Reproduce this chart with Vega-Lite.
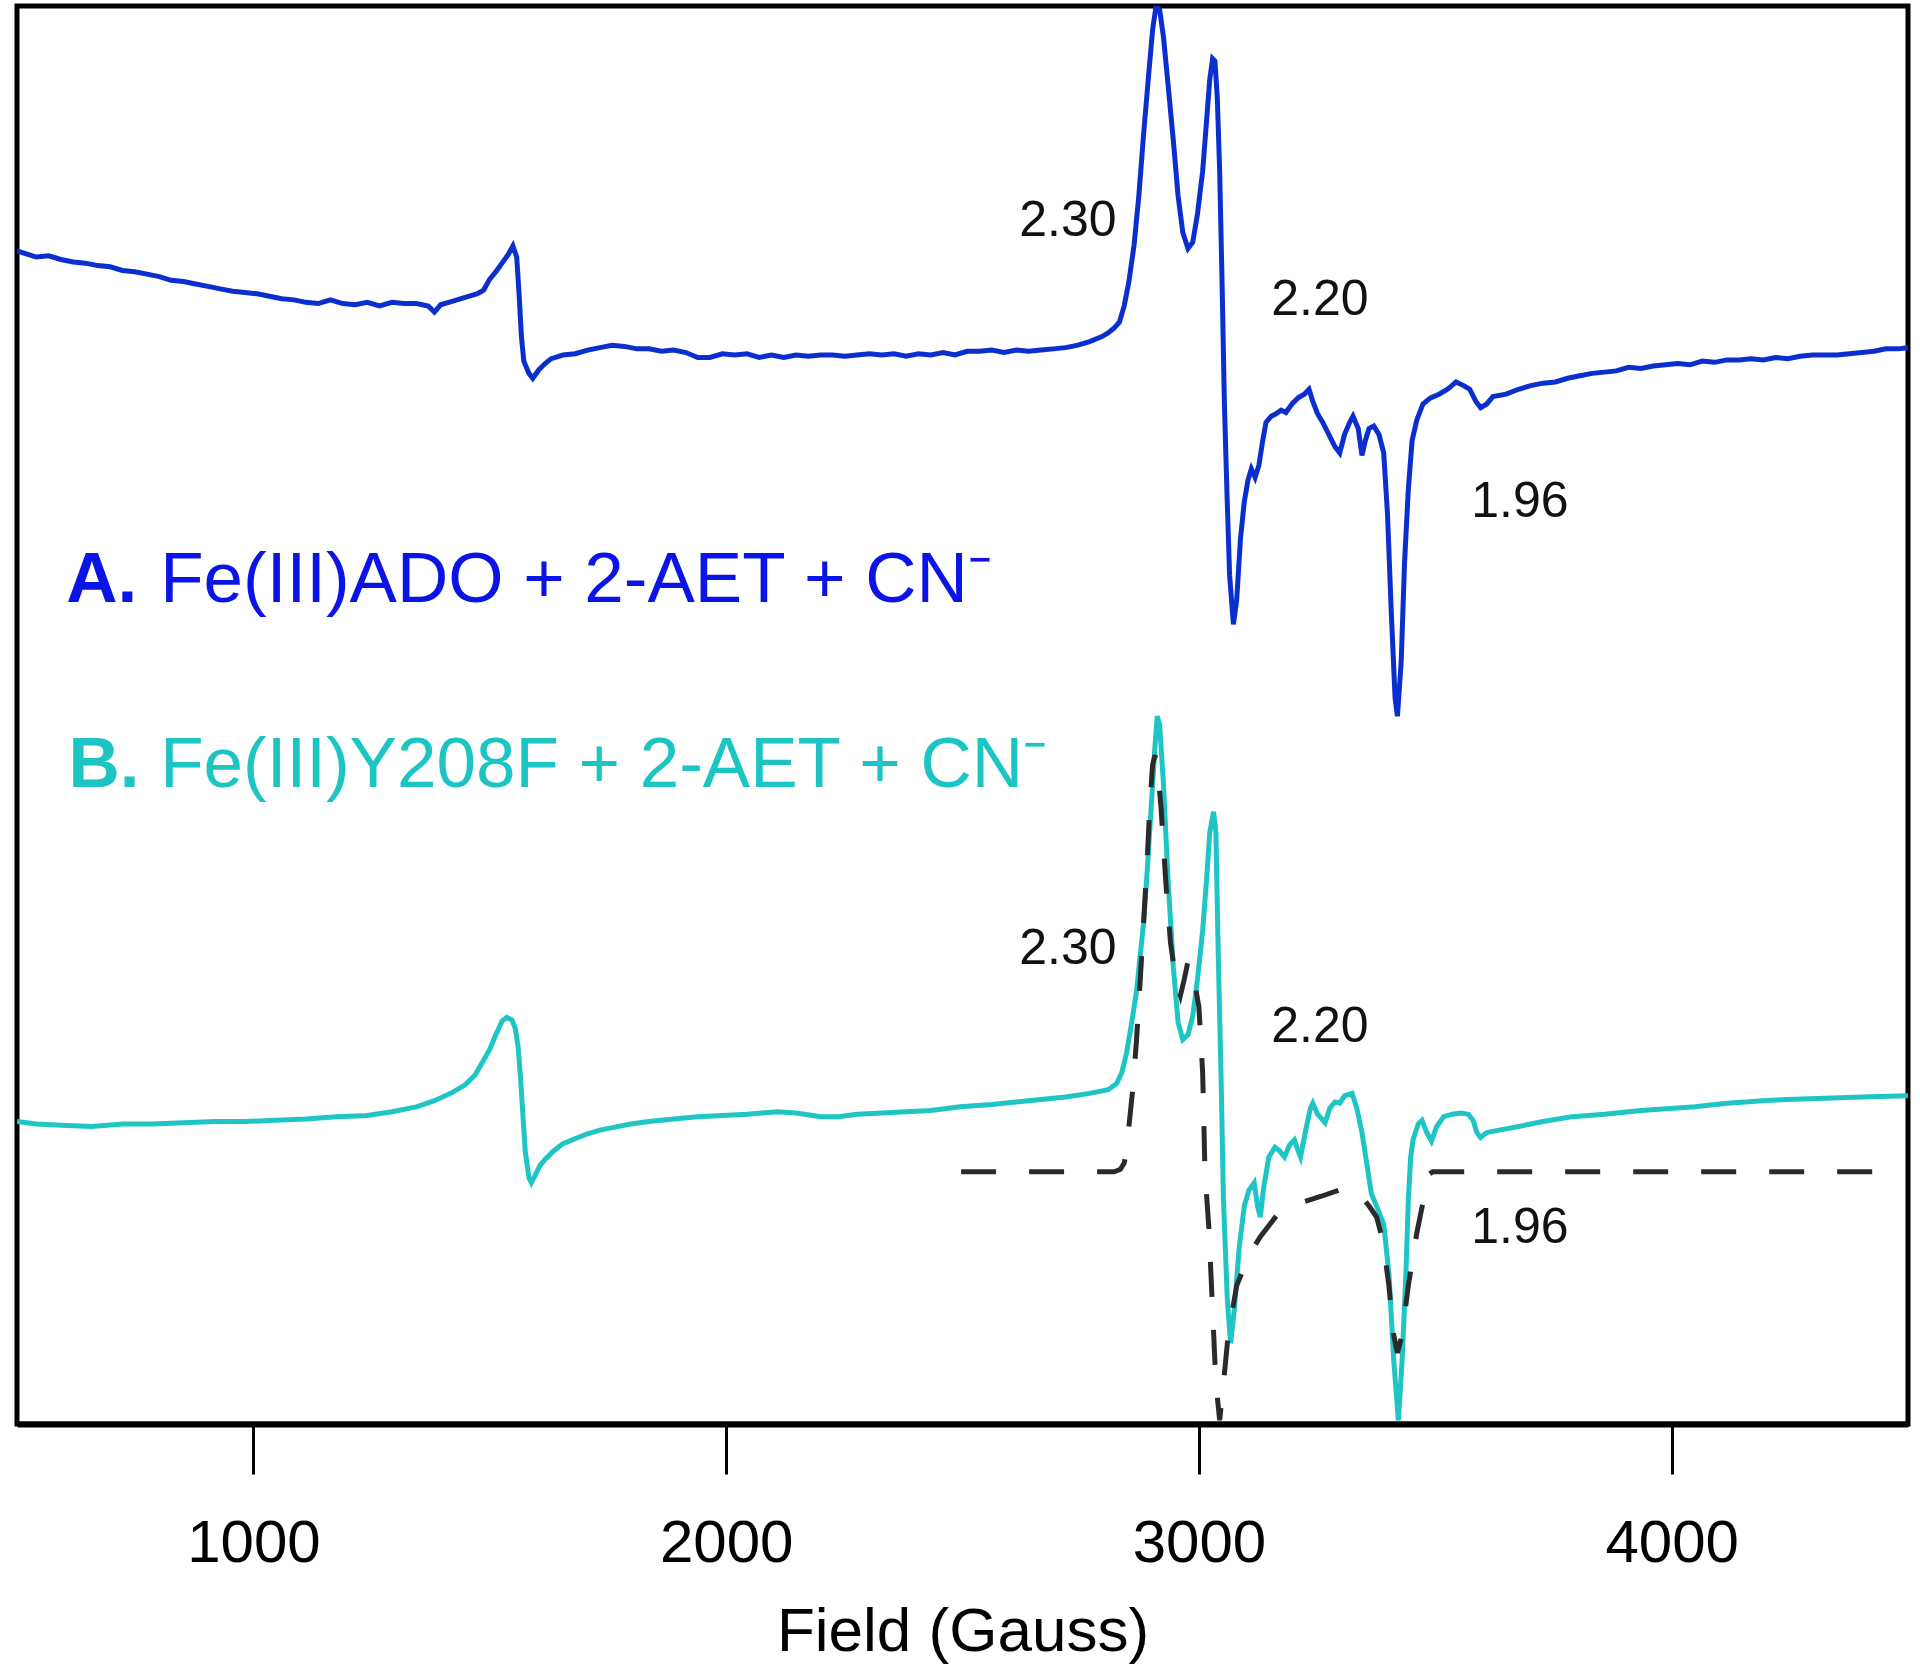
{
  "$schema": "https://vega.github.io/schema/vega-lite/v6.json",
  "width": 1891,
  "height": 1418,
  "autosize": {"type": "none"},
  "padding": {"left": 17, "top": 6, "right": 12, "bottom": 247},
  "background": "white",
  "config": {
    "view": {"stroke": "black", "strokeWidth": 5},
    "font": "Liberation Sans"
  },
  "datasets": {
    "A": [
      {"field":500,"y":958},{"field":516,"y":956},{"field":541,"y":953},{"field":567,"y":954},{"field":593,"y":951},{"field":619,"y":949},{"field":645,"y":948},{"field":671,"y":946},{"field":697,"y":945},{"field":723,"y":942},{"field":749,"y":941},{"field":775,"y":939},{"field":801,"y":937},{"field":826,"y":934},{"field":852,"y":933},{"field":878,"y":931},{"field":904,"y":929},{"field":930,"y":927},{"field":956,"y":925},{"field":982,"y":924},{"field":1008,"y":923},{"field":1034,"y":921},{"field":1060,"y":919},{"field":1086,"y":918},{"field":1111,"y":916},{"field":1137,"y":915},{"field":1163,"y":918},{"field":1189,"y":915},{"field":1215,"y":914},{"field":1241,"y":916},{"field":1267,"y":913},{"field":1293,"y":916},{"field":1319,"y":915},{"field":1345,"y":915},{"field":1370,"y":913},{"field":1383,"y":908},{"field":1396,"y":914},{"field":1422,"y":917},{"field":1448,"y":920},{"field":1474,"y":923},{"field":1487,"y":926},{"field":1500,"y":935},{"field":1513,"y":941},{"field":1526,"y":948},{"field":1539,"y":955},{"field":1549,"y":962},{"field":1557,"y":953},{"field":1562,"y":923},{"field":1567,"y":888},{"field":1572,"y":868},{"field":1583,"y":858},{"field":1591,"y":854},{"field":1604,"y":861},{"field":1617,"y":866},{"field":1630,"y":870},{"field":1655,"y":873},{"field":1681,"y":874},{"field":1707,"y":877},{"field":1733,"y":879},{"field":1759,"y":881},{"field":1785,"y":880},{"field":1811,"y":878},{"field":1837,"y":878},{"field":1863,"y":876},{"field":1889,"y":877},{"field":1915,"y":875},{"field":1940,"y":871},{"field":1966,"y":871},{"field":1992,"y":874},{"field":2018,"y":873},{"field":2044,"y":874},{"field":2070,"y":871},{"field":2096,"y":873},{"field":2122,"y":871},{"field":2148,"y":873},{"field":2174,"y":872},{"field":2200,"y":873},{"field":2225,"y":873},{"field":2251,"y":872},{"field":2277,"y":873},{"field":2303,"y":874},{"field":2329,"y":873},{"field":2355,"y":874},{"field":2381,"y":872},{"field":2407,"y":874},{"field":2433,"y":873},{"field":2459,"y":875},{"field":2484,"y":873},{"field":2510,"y":876},{"field":2536,"y":876},{"field":2562,"y":877},{"field":2588,"y":875},{"field":2614,"y":877},{"field":2640,"y":876},{"field":2666,"y":877},{"field":2692,"y":878},{"field":2718,"y":879},{"field":2744,"y":881},{"field":2769,"y":884},{"field":2795,"y":888},{"field":2808,"y":891},{"field":2821,"y":895},{"field":2832,"y":900},{"field":2842,"y":913},{"field":2852,"y":933},{"field":2863,"y":963},{"field":2873,"y":1003},{"field":2883,"y":1053},{"field":2894,"y":1103},{"field":2902,"y":1138},{"field":2909,"y":1157},{"field":2917,"y":1155},{"field":2925,"y":1133},{"field":2935,"y":1093},{"field":2946,"y":1048},{"field":2956,"y":1003},{"field":2966,"y":973},{"field":2977,"y":960},{"field":2987,"y":965},{"field":2997,"y":988},{"field":3008,"y":1023},{"field":3016,"y":1063},{"field":3023,"y":1098},{"field":3029,"y":1115},{"field":3034,"y":1113},{"field":3039,"y":1083},{"field":3044,"y":1023},{"field":3049,"y":933},{"field":3054,"y":833},{"field":3060,"y":753},{"field":3065,"y":693},{"field":3073,"y":653},{"field":3080,"y":673},{"field":3088,"y":723},{"field":3096,"y":753},{"field":3104,"y":771},{"field":3111,"y":780},{"field":3119,"y":773},{"field":3127,"y":783},{"field":3135,"y":803},{"field":3142,"y":818},{"field":3153,"y":823},{"field":3163,"y":825},{"field":3174,"y":828},{"field":3184,"y":826},{"field":3197,"y":833},{"field":3210,"y":838},{"field":3223,"y":841},{"field":3233,"y":845},{"field":3241,"y":835},{"field":3251,"y":825},{"field":3262,"y":818},{"field":3275,"y":808},{"field":3288,"y":798},{"field":3298,"y":793},{"field":3308,"y":808},{"field":3319,"y":818},{"field":3326,"y":823},{"field":3337,"y":813},{"field":3345,"y":791},{"field":3352,"y":803},{"field":3360,"y":813},{"field":3370,"y":815},{"field":3381,"y":808},{"field":3391,"y":793},{"field":3399,"y":743},{"field":3407,"y":663},{"field":3415,"y":593},{"field":3420,"y":578},{"field":3428,"y":623},{"field":3435,"y":703},{"field":3443,"y":763},{"field":3451,"y":803},{"field":3461,"y":820},{"field":3474,"y":833},{"field":3490,"y":838},{"field":3508,"y":841},{"field":3526,"y":845},{"field":3544,"y":851},{"field":3560,"y":848},{"field":3573,"y":845},{"field":3586,"y":835},{"field":3596,"y":830},{"field":3609,"y":833},{"field":3622,"y":839},{"field":3650,"y":841},{"field":3676,"y":845},{"field":3702,"y":848},{"field":3728,"y":850},{"field":3754,"y":851},{"field":3780,"y":854},{"field":3806,"y":856},{"field":3832,"y":858},{"field":3858,"y":859},{"field":3883,"y":860},{"field":3909,"y":863},{"field":3935,"y":862},{"field":3961,"y":864},{"field":3987,"y":865},{"field":4013,"y":866},{"field":4039,"y":865},{"field":4065,"y":868},{"field":4091,"y":867},{"field":4117,"y":869},{"field":4143,"y":869},{"field":4168,"y":870},{"field":4194,"y":869},{"field":4220,"y":871},{"field":4246,"y":870},{"field":4272,"y":872},{"field":4298,"y":873},{"field":4324,"y":873},{"field":4350,"y":873},{"field":4376,"y":874},{"field":4402,"y":875},{"field":4428,"y":876},{"field":4453,"y":878},{"field":4479,"y":878},{"field":4500,"y":879}
    ],
    "B": [
      {"field":500,"y":247},{"field":541,"y":245},{"field":593,"y":244},{"field":658,"y":243},{"field":723,"y":245},{"field":788,"y":245},{"field":852,"y":246},{"field":917,"y":247},{"field":982,"y":247},{"field":1047,"y":248},{"field":1111,"y":249},{"field":1176,"y":251},{"field":1241,"y":252},{"field":1293,"y":255},{"field":1345,"y":259},{"field":1383,"y":264},{"field":1422,"y":271},{"field":1448,"y":277},{"field":1469,"y":285},{"field":1487,"y":297},{"field":1500,"y":306},{"field":1513,"y":318},{"field":1526,"y":329},{"field":1536,"y":332},{"field":1547,"y":330},{"field":1554,"y":323},{"field":1560,"y":308},{"field":1565,"y":283},{"field":1570,"y":253},{"field":1575,"y":223},{"field":1583,"y":201},{"field":1588,"y":197},{"field":1596,"y":203},{"field":1606,"y":211},{"field":1617,"y":216},{"field":1635,"y":223},{"field":1655,"y":229},{"field":1681,"y":233},{"field":1707,"y":237},{"field":1733,"y":240},{"field":1759,"y":242},{"field":1798,"y":245},{"field":1837,"y":247},{"field":1889,"y":249},{"field":1940,"y":251},{"field":1992,"y":252},{"field":2044,"y":253},{"field":2109,"y":255},{"field":2148,"y":254},{"field":2200,"y":251},{"field":2238,"y":251},{"field":2277,"y":253},{"field":2329,"y":254},{"field":2381,"y":255},{"field":2433,"y":256},{"field":2495,"y":259},{"field":2562,"y":261},{"field":2640,"y":264},{"field":2718,"y":267},{"field":2769,"y":270},{"field":2808,"y":273},{"field":2826,"y":278},{"field":2837,"y":287},{"field":2847,"y":303},{"field":2858,"y":328},{"field":2868,"y":353},{"field":2876,"y":383},{"field":2883,"y":409},{"field":2891,"y":453},{"field":2899,"y":503},{"field":2907,"y":553},{"field":2912,"y":578},{"field":2917,"y":571},{"field":2925,"y":523},{"field":2935,"y":443},{"field":2946,"y":373},{"field":2956,"y":328},{"field":2966,"y":314},{"field":2977,"y":318},{"field":2987,"y":333},{"field":2997,"y":363},{"field":3008,"y":403},{"field":3016,"y":443},{"field":3023,"y":483},{"field":3031,"y":500},{"field":3036,"y":483},{"field":3041,"y":383},{"field":3047,"y":283},{"field":3052,"y":183},{"field":3060,"y":103},{"field":3067,"y":66},{"field":3075,"y":93},{"field":3085,"y":143},{"field":3096,"y":178},{"field":3106,"y":191},{"field":3117,"y":197},{"field":3124,"y":178},{"field":3130,"y":169},{"field":3137,"y":193},{"field":3148,"y":218},{"field":3161,"y":226},{"field":3171,"y":223},{"field":3181,"y":218},{"field":3192,"y":228},{"field":3202,"y":232},{"field":3210,"y":223},{"field":3215,"y":218},{"field":3225,"y":238},{"field":3236,"y":258},{"field":3241,"y":262},{"field":3251,"y":253},{"field":3267,"y":246},{"field":3277,"y":258},{"field":3288,"y":263},{"field":3298,"y":262},{"field":3308,"y":268},{"field":3324,"y":270},{"field":3334,"y":258},{"field":3345,"y":238},{"field":3355,"y":213},{"field":3365,"y":188},{"field":3381,"y":173},{"field":3391,"y":163},{"field":3402,"y":123},{"field":3412,"y":53},{"field":3422,"y":3},{"field":3430,"y":53},{"field":3438,"y":123},{"field":3443,"y":183},{"field":3448,"y":218},{"field":3453,"y":232},{"field":3464,"y":245},{"field":3472,"y":248},{"field":3482,"y":238},{"field":3492,"y":231},{"field":3503,"y":243},{"field":3518,"y":251},{"field":3536,"y":253},{"field":3554,"y":254},{"field":3570,"y":253},{"field":3580,"y":248},{"field":3588,"y":238},{"field":3596,"y":234},{"field":3609,"y":238},{"field":3635,"y":240},{"field":3676,"y":243},{"field":3728,"y":247},{"field":3790,"y":251},{"field":3858,"y":253},{"field":3935,"y":256},{"field":4013,"y":258},{"field":4049,"y":259},{"field":4117,"y":262},{"field":4194,"y":264},{"field":4244,"y":265},{"field":4324,"y":266},{"field":4402,"y":267},{"field":4500,"y":268}
    ],
    "fit": [
      {"field":2497,"y":206},{"field":2666,"y":206},{"field":2821,"y":206},{"field":2834,"y":208},{"field":2842,"y":213},{"field":2847,"y":223},{"field":2852,"y":243},{"field":2860,"y":273},{"field":2868,"y":313},{"field":2876,"y":363},{"field":2883,"y":409},{"field":2891,"y":463},{"field":2896,"y":503},{"field":2902,"y":538},{"field":2907,"y":546},{"field":2912,"y":538},{"field":2920,"y":503},{"field":2930,"y":443},{"field":2940,"y":393},{"field":2951,"y":363},{"field":2961,"y":350},{"field":2969,"y":363},{"field":2977,"y":378},{"field":2985,"y":373},{"field":2992,"y":358},{"field":3000,"y":341},{"field":3008,"y":287},{"field":3013,"y":205},{"field":3021,"y":161},{"field":3029,"y":93},{"field":3036,"y":33},{"field":3044,"y":3},{"field":3052,"y":33},{"field":3062,"y":73},{"field":3080,"y":113},{"field":3106,"y":138},{"field":3130,"y":153},{"field":3168,"y":172},{"field":3210,"y":180},{"field":3259,"y":186},{"field":3311,"y":193},{"field":3339,"y":188},{"field":3360,"y":178},{"field":3376,"y":169},{"field":3389,"y":150},{"field":3402,"y":113},{"field":3412,"y":73},{"field":3420,"y":58},{"field":3430,"y":73},{"field":3443,"y":113},{"field":3461,"y":156},{"field":3474,"y":181},{"field":3482,"y":203},{"field":3495,"y":206},{"field":3702,"y":206},{"field":4091,"y":206},{"field":4477,"y":206}
    ],
    "gvalues": [
      {"field":2723,"y":970,"t":"2.30"},
      {"field":3256,"y":906,"t":"2.20"},
      {"field":3679,"y":741,"t":"1.96"},
      {"field":2723,"y":376,"t":"2.30"},
      {"field":3256,"y":312,"t":"2.20"},
      {"field":3679,"y":148,"t":"1.96"}
    ],
    "letters": [
      {"field":604,"y":671,"t":"A.","s":"A"},
      {"field":609,"y":520,"t":"B.","s":"B"}
    ],
    "samples": [
      {"field":803,"y":671,"t":"Fe(III)ADO + 2-AET + CN⁻","s":"A"},
      {"field":803,"y":520,"t":"Fe(III)Y208F + 2-AET + CN⁻","s":"B"}
    ]
  },
  "encoding": {
    "x": {
      "field": "field",
      "type": "quantitative",
      "scale": {"domain": [500, 4500], "nice": false, "zero": false},
      "axis": {
        "title": "Field (Gauss)",
        "values": [1000, 2000, 3000, 4000],
        "grid": false,
        "domain": true,
        "domainColor": "black",
        "domainWidth": 6,
        "ticks": true,
        "tickColor": "black",
        "tickWidth": 3,
        "tickSize": 50,
        "labelFont": "Liberation Sans",
        "labelFontSize": 60,
        "labelColor": "black",
        "labelPadding": 40,
        "labelFlush": false,
        "format": "d",
        "titleFont": "Liberation Sans",
        "titleFontSize": 62,
        "titleFontWeight": "normal",
        "titleColor": "black",
        "titlePadding": 28
      }
    },
    "y": {
      "field": "y",
      "type": "quantitative",
      "scale": {"domain": [0, 1158], "nice": false, "zero": false},
      "axis": null
    }
  },
  "layer": [
    {
      "data": {"name": "A"},
      "mark": {"type": "line", "color": "#0b2fcf", "strokeWidth": 5, "clip": true}
    },
    {
      "data": {"name": "B"},
      "mark": {"type": "line", "color": "#1fc5c5", "strokeWidth": 5, "clip": true}
    },
    {
      "data": {"name": "fit"},
      "mark": {"type": "line", "color": "#2a2a2a", "strokeWidth": 5, "strokeDash": [35, 33], "clip": true}
    },
    {
      "data": {"name": "gvalues"},
      "mark": {"type": "text", "fontSize": 50, "align": "center", "baseline": "alphabetic", "color": "#111111", "font": "Liberation Sans"},
      "encoding": {"text": {"field": "t", "type": "nominal"}}
    },
    {
      "data": {"name": "letters"},
      "mark": {"type": "text", "fontSize": 71, "fontWeight": "bold", "align": "left", "baseline": "alphabetic", "font": "Liberation Sans"},
      "encoding": {
        "text": {"field": "t", "type": "nominal"},
        "color": {"field": "s", "type": "nominal", "scale": {"domain": ["A", "B"], "range": ["#0a14e6", "#1cc4c4"]}, "legend": null}
      }
    },
    {
      "data": {"name": "samples"},
      "mark": {"type": "text", "fontSize": 71, "align": "left", "baseline": "alphabetic", "font": "Liberation Sans"},
      "encoding": {
        "text": {"field": "t", "type": "nominal"},
        "color": {"field": "s", "type": "nominal", "scale": {"domain": ["A", "B"], "range": ["#0a14e6", "#1cc4c4"]}, "legend": null}
      }
    }
  ]
}
